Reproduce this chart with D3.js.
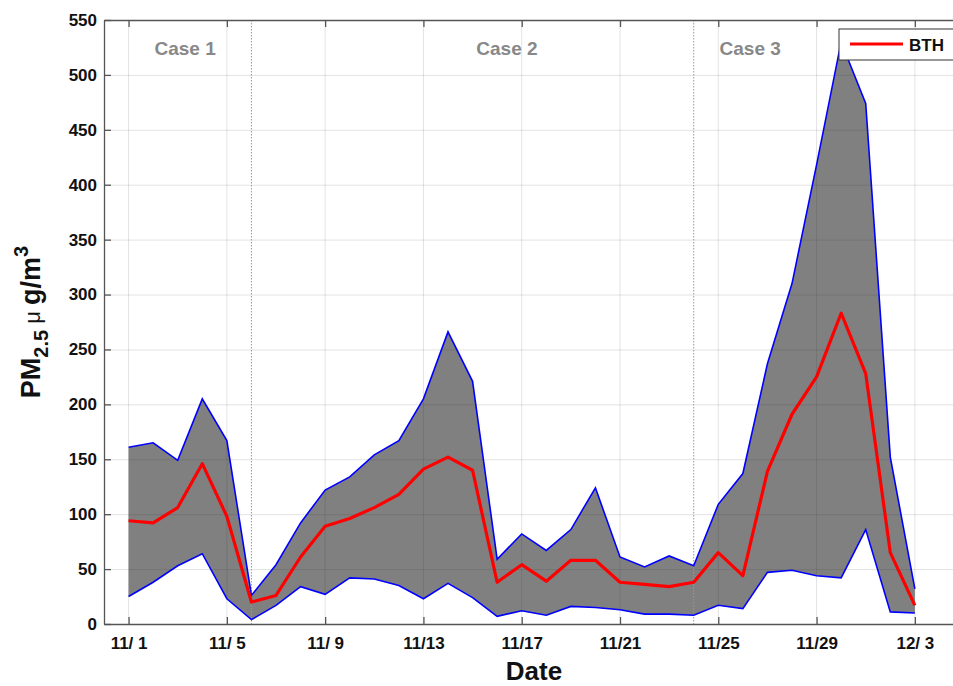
<!DOCTYPE html>
<html>
<head>
<meta charset="utf-8">
<script src="https://cdn.jsdelivr.net/npm/d3@7"></script>
<style>
  body { margin: 0; background: #fff; }
  svg { display: block; font-family: "Liberation Sans", Arial, Helvetica, sans-serif; }
</style>
</head>
<body>
<svg width="953" height="686"></svg>
<script>
// days from 11/1 to 12/3
const dates = ["11/1","11/2","11/3","11/4","11/5","11/6","11/7","11/8","11/9","11/10",
  "11/11","11/12","11/13","11/14","11/15","11/16","11/17","11/18","11/19","11/20",
  "11/21","11/22","11/23","11/24","11/25","11/26","11/27","11/28","11/29","11/30",
  "12/1","12/2","12/3"];
const upper = [161,165,149,205,167,26,54,92,122,134, 154,167,205,266,221,59,82,67,86,124,
  61,52,62,53,109,137,237,310,418,530, 474,152,32];
const mean = [94,92,106,146,98,20,26,61,89,96, 106,118,141,152,140,38,54,39,58,58,
  38,36,34,38,65,44,139,191,225,283, 228,65,17];
const lower = [25,38,53,64,23,4,17,34,27,42, 41,35,23,37,24,7,12,8,16,15,
  13,9,9,8,17,14,47,49,44,42, 86,11,10];
const tickDays = [0,4,8,12,16,20,24,28,32];
const tickLabels = ["11/ 1","11/ 5","11/ 9","11/13","11/17","11/21","11/25","11/29","12/ 3"];
const yTicks = [0,50,100,150,200,250,300,350,400,450,500,550];
const cases = [{label: "Case 1", day: 2.3}, {label: "Case 2", day: 15.4}, {label: "Case 3", day: 25.3}];
const caseBreaks = [5, 23];

const svg = d3.select("svg");
const plotLeft = 104, plotRight = 964, plotTop = 20, plotBottom = 624;
const font = "'Liberation Sans', Arial, Helvetica, sans-serif";

const x = d3.scaleLinear().domain([-1, 34]).range([plotLeft, plotRight]);
const y = d3.scaleLinear().domain([0, 550]).range([plotBottom, plotTop]);

const days = dates.map((d, i) => i);

// gray band between min and max
svg.append("path")
  .datum(days)
  .attr("fill", "#808080")
  .attr("d", d3.area().x(i => x(i)).y0(i => y(lower[i])).y1(i => y(upper[i])));

// grid (drawn over band, translucent)
const grid = svg.append("g").attr("stroke", "#262626").attr("stroke-opacity", 0.13).attr("stroke-width", 1);
grid.selectAll("line.h").data(yTicks.slice(1)).join("line")
  .attr("x1", plotLeft).attr("x2", plotRight)
  .attr("y1", d => y(d) + 0.5).attr("y2", d => y(d) + 0.5);
grid.selectAll("line.v").data(tickDays).join("line")
  .attr("x1", d => x(d)).attr("x2", d => x(d))
  .attr("y1", plotTop).attr("y2", plotBottom);

// case separators
svg.append("g").selectAll("line").data(caseBreaks).join("line")
  .attr("x1", d => x(d)).attr("x2", d => x(d))
  .attr("y1", plotTop).attr("y2", plotBottom)
  .attr("stroke", "#9a9a9a").attr("stroke-width", 1).attr("stroke-dasharray", "1.5,1.5");

// blue envelope lines
const line = d3.line().x(i => x(i));
svg.append("path").datum(days).attr("fill", "none").attr("stroke", "#0000ff").attr("stroke-width", 1.6)
  .attr("d", line.y(i => y(upper[i])));
svg.append("path").datum(days).attr("fill", "none").attr("stroke", "#0000ff").attr("stroke-width", 1.6)
  .attr("d", line.y(i => y(lower[i])));

// mean line
svg.append("path").datum(days).attr("fill", "none").attr("stroke", "#ff0000").attr("stroke-width", 3.2)
  .attr("stroke-linejoin", "round")
  .attr("d", d3.line().x(i => x(i)).y(i => y(mean[i])));

// axes
const xAxis = svg.append("g")
  .attr("transform", `translate(0,${plotBottom})`)
  .call(d3.axisBottom(x).tickValues(tickDays).tickFormat((d, i) => tickLabels[i])
    .tickSize(-7).tickPadding(13).tickSizeOuter(0));
const xTop = svg.append("g")
  .attr("transform", `translate(0,${plotTop})`)
  .call(d3.axisTop(x).tickValues(tickDays).tickFormat("").tickSize(-7).tickSizeOuter(0));
const yAxis = svg.append("g")
  .attr("transform", `translate(${plotLeft},0)`)
  .call(d3.axisLeft(y).tickValues(yTicks).tickSize(-7).tickPadding(7).tickSizeOuter(0));

[xAxis, xTop, yAxis].forEach(g => {
  g.select(".domain").attr("stroke", "#555").attr("stroke-width", 1.3);
  g.selectAll(".tick line").attr("stroke", "#555").attr("stroke-width", 1.3);
  g.selectAll("text").attr("fill", "#111").attr("font-size", 17).attr("font-weight", "bold")
    .attr("font-family", font).style("white-space", "pre");
});

// case labels
svg.append("g").selectAll("text").data(cases).join("text")
  .attr("x", d => x(d.day)).attr("y", 55)
  .attr("text-anchor", "middle")
  .attr("fill", "#888").attr("font-size", 19).attr("font-weight", "bold")
  .text(d => d.label);

// axis titles
svg.append("text")
  .attr("x", (plotLeft + plotRight) / 2).attr("y", 680)
  .attr("text-anchor", "middle").attr("font-size", 26).attr("font-weight", "bold").attr("fill", "#111")
  .text("Date");

const yl = svg.append("text")
  .attr("transform", `translate(40,${(plotTop + plotBottom) / 2}) rotate(-90)`)
  .attr("text-anchor", "middle").attr("font-size", 27).attr("font-weight", "bold").attr("fill", "#111");
yl.append("tspan").text("PM");
yl.append("tspan").attr("font-size", 20).attr("dy", 8).text("2.5");
yl.append("tspan").attr("dy", -8).attr("font-weight", "normal").attr("font-size", 22).text(" \u03bc ");
yl.append("tspan").text("g/m");
yl.append("tspan").attr("font-size", 20).attr("dy", -12).text("3");

// legend (cut by right edge)
const lg = svg.append("g").attr("transform", "translate(839,29)");
lg.append("rect").attr("width", 140).attr("height", 31)
  .attr("fill", "#fff").attr("stroke", "#333").attr("stroke-width", 1);
lg.append("line").attr("x1", 11).attr("x2", 64).attr("y1", 15).attr("y2", 15)
  .attr("stroke", "#ff0000").attr("stroke-width", 3.2);
lg.append("text").attr("x", 70).attr("y", 21.5)
  .attr("font-size", 17).attr("font-weight", "bold").attr("fill", "#111").text("BTH");
</script>
</body>
</html>
